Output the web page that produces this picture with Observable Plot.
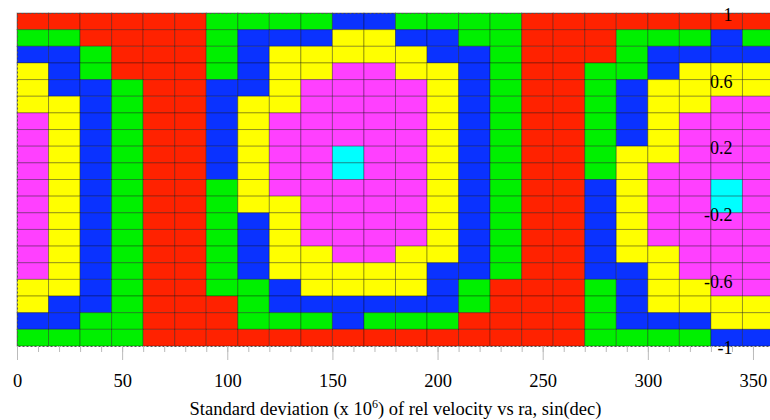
<!DOCTYPE html>
<html><head><meta charset="utf-8">
<script src="https://cdn.jsdelivr.net/npm/d3@7"></script>
<script src="https://cdn.jsdelivr.net/npm/@observablehq/plot@0.6"></script>
<style>
html,body{margin:0;padding:0;background:#fff;overflow:hidden;}
#chart{width:770px;height:420px;overflow:hidden;}
</style></head><body><div id="chart"></div>
<script>
// ra bin starts (deg) and sin(dec) bin tops
const colStarts = [0,15,30,45,60,75,90,105,120,135,150,165,180,195,210,225,240,255,270,285,300,315,330,345];
const rowTops = [1.0,0.9,0.8,0.7,0.6,0.5,0.4,0.3,0.2,0.1,0.0,-0.1,-0.2,-0.3,-0.4,-0.5,-0.6,-0.7,-0.8,-0.9];
const cellW = 15, cellH = 0.1;
// level codes: R < G < B < Y < M < C
const levels = ["R","G","B","Y","M","C"];
const levelColors = ["#ff2200","#00f000","#0a32ff","#ffff00","#ff40ff","#00ffff"];
const grid = [
  "RRRRRRGGGGBBGGGGRRRRRRRR",
  "GGRRRRGBBBYYBBGGRRRGGGBG",
  "BBGRRRGBYYYYYBBGRRRGBBBB",
  "YBGRRRGBYYMMYYBGRRGGBYYY",
  "YBBGRRBBYMMMMYBGRRGBYYYY",
  "YYBGRRBYYMMMMYBGRRGBYYMM",
  "MYBGRRBYMMMMMYBGRRGBYMMM",
  "MYBGRRBYMMMMMYBGRRGBYMMM",
  "MYBGRRBYMMCMMYBGRRGYYMMM",
  "MYBGRRBYMMCMMYBGRRGYMMMM",
  "MYBGRRGYMMMMMYBGRRBYMMCM",
  "MYBGRRGYYMMMMYBGRRBYMMCM",
  "MYBGRRGBYMMMMYBGRRBYMMMM",
  "MYBGRRGBYMMMMYBGRRBYMMMM",
  "MYBGRRGBYYMMYYBGRRBYYMMM",
  "MYBGRRGBYYYYYBBGRRBBYMMM",
  "YYBGRRGGBYYYYBGRRRGBYYMM",
  "YBBGRRRGBBBBBBGRRRGBYYYY",
  "BBGGRRRGGGBGGGRRRRGBBBYY",
  "GGGGRRRRRRRRRRRRRRGGGGBB"
];
const xMajorTicks = [0,50,100,150,200,250,300,350];
const xMinorTicks = [0,10,20,30,40,50,60,70,80,90,100,110,120,130,140,150,160,170,180,190,200,210,220,230,240,250,260,270,280,290,300,310,320,330,340,350,360];
const yLabelTicks = [1,0.6,0.2,-0.2,-0.6,-1];
const yMinorTicks = [1,0.92,0.84,0.76,0.68,0.6,0.52,0.44,0.36,0.28,0.2,0.12,0.04,-0.04,-0.12,-0.2,-0.28,-0.36,-0.44,-0.52,-0.6,-0.68,-0.76,-0.84,-0.92,-1];

const cells = [];
grid.forEach((row, i) => {
  [...row].forEach((code, j) => {
    cells.push({x1: colStarts[j], x2: colStarts[j] + cellW, y1: rowTops[i] - cellH, y2: rowTops[i], level: code});
  });
});

const serif = "'Liberation Serif', 'DejaVu Serif', serif";
const plot = Plot.plot({
  width: 770,
  height: 420,
  marginLeft: 17,
  marginRight: -4,
  marginTop: 13,
  marginBottom: 74,
  style: {fontFamily: serif, background: "#fff", overflow: "hidden"},
  x: {domain: [0, 360], label: null},
  y: {domain: [-1, 1], label: null},
  color: {type: "ordinal", domain: levels, range: levelColors},
  marks: [
    Plot.rect(cells, {x1: "x1", x2: "x2", y1: "y1", y2: "y2", fill: "level", stroke: "#000", strokeOpacity: 0.32, strokeWidth: 1}),
    Plot.frame({stroke: "#555", strokeDasharray: "2,2"}),
    Plot.axisX(xMinorTicks, {tickSize: 6, stroke: "#bbb", tickFormat: () => "", label: null}),
    Plot.axisX(xMajorTicks, {tickSize: 14, stroke: "#bbb", tickPadding: 13, fontSize: 18.5, fill: "#000", label: null}),
    Plot.axisY(yMinorTicks, {anchor: "right", tickSize: 16, stroke: "#444", tickFormat: () => "", label: null}),
    Plot.axisY(yLabelTicks, {anchor: "right", tickSize: 0, tickPadding: -42, textAnchor: "end", dy: 2, fontSize: 18, fill: "#000", tickFormat: d => String(d), label: null})
  ]
});
document.getElementById("chart").appendChild(plot);

// x-axis title with a real superscript
const xs = plot.scale("x");
const t = d3.select(plot).append("text")
  .attr("x", (xs.apply(0) + xs.apply(360)) / 2)
  .attr("y", 415)
  .attr("text-anchor", "middle")
  .attr("font-family", serif)
  .attr("font-size", 18.5)
  .attr("fill", "#000");
t.append("tspan").text("Standard deviation (x 10");
t.append("tspan").attr("font-size", 12).attr("dy", -7).text("6");
t.append("tspan").attr("dy", 7).text(") of rel velocity vs ra, sin(dec)");
</script>
</body></html>
